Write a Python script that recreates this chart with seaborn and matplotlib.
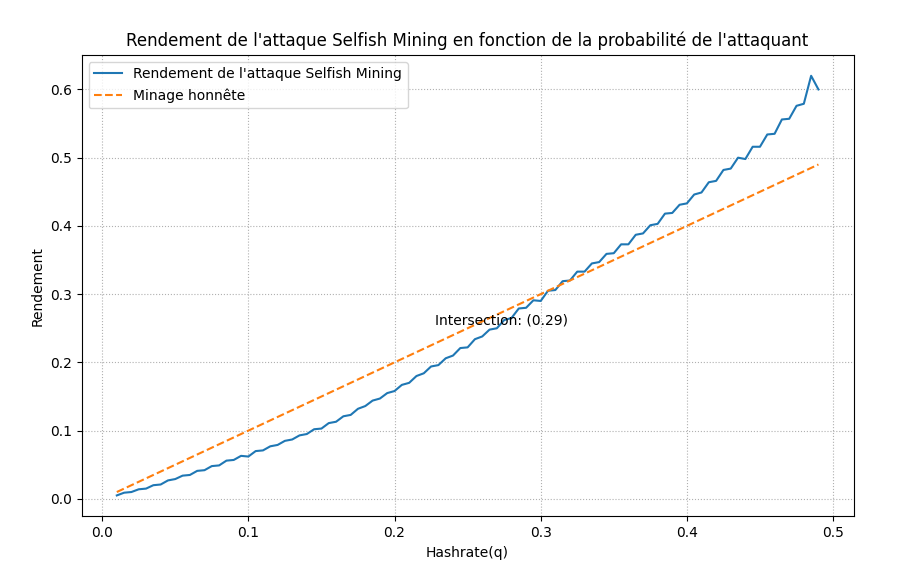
import numpy as np
import pandas as pd
import matplotlib
matplotlib.use("Agg")
import matplotlib.pyplot as plt
import seaborn as sns

# hashrate values (q) and selfish mining revenue
q_values = [0.010, 0.015, 0.020, 0.025, 0.030, 0.035, 0.040, 0.045, 0.050, 0.055,
            0.060, 0.065, 0.070, 0.075, 0.080, 0.085, 0.090, 0.095, 0.100, 0.105,
            0.110, 0.115, 0.120, 0.125, 0.130, 0.135, 0.140, 0.145, 0.150, 0.155,
            0.160, 0.165, 0.170, 0.175, 0.180, 0.185, 0.190, 0.195, 0.200, 0.205,
            0.210, 0.215, 0.220, 0.225, 0.230, 0.235, 0.240, 0.245, 0.250, 0.255,
            0.260, 0.265, 0.270, 0.275, 0.280, 0.285, 0.290, 0.295, 0.300, 0.305,
            0.310, 0.315, 0.320, 0.325, 0.330, 0.335, 0.340, 0.345, 0.350, 0.355,
            0.360, 0.365, 0.370, 0.375, 0.380, 0.385, 0.390, 0.395, 0.400, 0.405,
            0.410, 0.415, 0.420, 0.425, 0.430, 0.435, 0.440, 0.445, 0.450, 0.455,
            0.460, 0.465, 0.470, 0.475, 0.480, 0.485, 0.490]
selfish = [0.005, 0.009, 0.010, 0.014, 0.015, 0.020, 0.021, 0.027, 0.029, 0.034,
           0.035, 0.041, 0.042, 0.048, 0.049, 0.056, 0.057, 0.063, 0.062, 0.070,
           0.071, 0.077, 0.079, 0.085, 0.087, 0.093, 0.095, 0.102, 0.103, 0.111,
           0.113, 0.121, 0.123, 0.132, 0.136, 0.144, 0.147, 0.155, 0.158, 0.167,
           0.170, 0.180, 0.184, 0.194, 0.196, 0.206, 0.210, 0.221, 0.222, 0.234,
           0.238, 0.248, 0.250, 0.262, 0.265, 0.279, 0.280, 0.291, 0.290, 0.305,
           0.306, 0.319, 0.320, 0.333, 0.333, 0.345, 0.347, 0.359, 0.360, 0.373,
           0.373, 0.387, 0.389, 0.401, 0.403, 0.418, 0.419, 0.431, 0.433, 0.446,
           0.449, 0.464, 0.466, 0.482, 0.484, 0.500, 0.498, 0.516, 0.516, 0.534,
           0.535, 0.556, 0.557, 0.576, 0.579, 0.620, 0.600]
honest_q = [0.01, 0.49]
honest = [0.01, 0.49]

df = pd.DataFrame({'q': q_values, 'rendement': selfish})
df_h = pd.DataFrame({'q': honest_q, 'rendement': honest})

fig, ax = plt.subplots(figsize=(9.08, 5.77), dpi=100)
sns.lineplot(data=df, x='q', y='rendement', ax=ax, color='#1f77b4',
             label="Rendement de l'attaque Selfish Mining")
sns.lineplot(data=df_h, x='q', y='rendement', ax=ax, color='#ff7f0e',
             linestyle='--', label='Minage honnête')
ax.text(0.228, 0.255, 'Intersection: (0.29)', fontsize=10)
ax.set_xlabel('Hashrate(q)')
ax.set_ylabel('Rendement')
ax.set_title("Rendement de l'attaque Selfish Mining en fonction de la probabilité de l'attaquant")
ax.grid(True, linestyle=':', color='#b0b0b0')
ax.legend(loc='upper left')
fig.subplots_adjust(left=0.09, right=0.94, top=0.905, bottom=0.105)
fig.savefig('out.png')
